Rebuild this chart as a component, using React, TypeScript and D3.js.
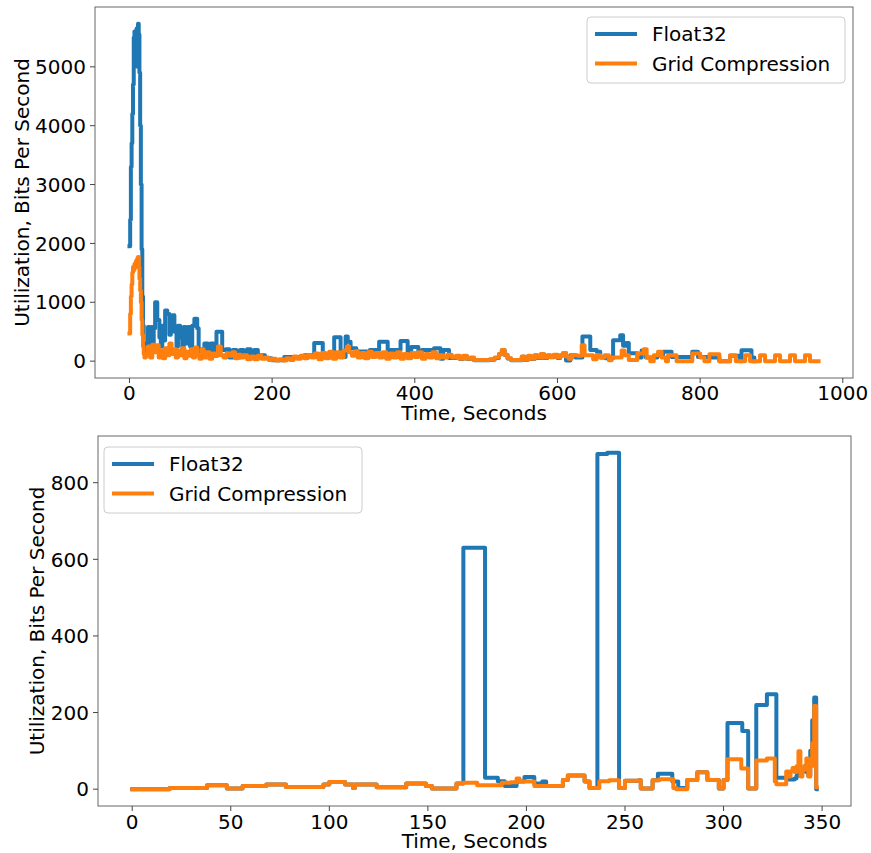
import React from "react";
import * as d3 from "d3";

type Pt = [number, number];

// ---------- Data (time in seconds, utilization in bits per second) ----------
const topFloat32: Pt[] = [
  [0, 1950], [1, 2400], [2, 3300], [3, 3700], [4, 4200], [5, 4700], [6, 5500], [7, 5600], [8, 5150], [9, 5600],
  [10, 5650], [11, 5000], [12, 5730], [13, 5550], [14, 4900], [15, 4000], [16, 3000], [17, 1900], [18, 1100], [19, 600],
  [20, 300], [22, 150], [24, 300], [26, 580], [28, 300], [30, 580], [32, 250], [34, 560], [36, 1000], [39, 700],
  [42, 400], [44, 250], [46, 600], [48, 350], [50, 860], [53, 800], [56, 450], [58, 600], [60, 780], [63, 500],
  [66, 250], [68, 600], [71, 400], [74, 250], [76, 580], [79, 300], [82, 580], [85, 250], [88, 600], [91, 720],
  [95, 560], [97, 200], [100, 130], [105, 300], [110, 150], [114, 300], [118, 90], [122, 500], [130, 190], [135, 200],
  [140, 60], [145, 190], [150, 60], [155, 190], [160, 100], [165, 200], [170, 100], [175, 190], [180, 100], [190, 50],
  [199, 15], [217, 70], [245, 100], [259, 310], [271, 100], [287, 405], [296, 70], [303, 420], [306, 330], [310, 220],
  [318, 165], [337, 190], [350, 330], [362, 190], [380, 340], [390, 150], [395, 240], [405, 150], [410, 190], [427, 220],
  [436, 40], [440, 190], [448, 55], [452, 55], [458, 85], [463, 35], [468, 85], [473, 35], [478, 55], [483, 15],
  [495, 15], [505, 25], [512, 55], [518, 115], [522, 185], [526, 105], [530, 45], [535, 15], [545, 15], [550, 75],
  [554, 25], [559, 85], [563, 35], [568, 95], [572, 55], [577, 115], [581, 55], [586, 95], [590, 65], [595, 105],
  [600, 55], [604, 95], [608, 135], [612, 10], [618, 100], [625, 60], [635, 420], [646, 190], [655, 160], [660, 60],
  [667, 50], [678, 355], [688, 440], [692, 260], [696, 310], [700, 135], [712, 60], [718, 180], [724, 60], [740, 100],
  [748, 160], [760, 70], [789, 160], [797, 70], [813, 60], [827, 0], [842, 90], [856, 0], [858, 186], [872, 60],
  [876, 0],
];

const topGrid: Pt[] = [
  [0, 470], [1, 800], [2, 1100], [3, 1300], [4, 1500], [5, 1600], [6, 1550], [7, 1650], [8, 1600], [9, 1700],
  [10, 1650], [11, 1750], [12, 1770], [13, 1600], [14, 1400], [15, 1200], [16, 1000], [17, 700], [18, 450], [19, 250],
  [20, 120], [21, 60], [23, 100], [26, 250], [29, 60], [32, 280], [35, 150], [38, 270], [41, 60], [44, 180],
  [47, 50], [50, 220], [53, 100], [56, 300], [59, 120], [62, 200], [65, 60], [68, 180], [71, 100], [74, 220],
  [77, 50], [80, 160], [83, 90], [86, 200], [89, 60], [92, 230], [95, 100], [98, 40], [101, 200], [104, 60],
  [108, 150], [112, 40], [116, 130], [120, 90], [124, 250], [128, 100], [132, 60], [136, 130], [140, 90], [144, 150],
  [148, 50], [152, 110], [156, 60], [160, 100], [165, 30], [170, 80], [175, 30], [180, 90], [185, 40], [190, 60],
  [195, 20], [200, 40], [205, 10], [210, 30], [215, 10], [220, 50], [225, 20], [230, 80], [235, 40], [240, 90],
  [245, 50], [250, 100], [255, 60], [260, 130], [265, 30], [270, 140], [275, 50], [280, 160], [285, 40], [290, 150],
  [295, 60], [300, 180], [305, 250], [308, 150], [312, 90], [316, 170], [320, 60], [325, 140], [330, 50], [335, 160],
  [340, 70], [345, 140], [350, 60], [355, 150], [360, 40], [365, 130], [370, 60], [375, 150], [380, 40], [385, 120],
  [390, 50], [395, 140], [400, 70], [405, 150], [410, 40], [415, 120], [420, 60], [425, 150], [430, 50], [435, 100],
  [440, 60], [446, 110], [452, 60], [458, 90], [463, 40], [468, 90], [473, 40], [478, 60], [483, 20], [495, 20],
  [505, 30], [512, 60], [518, 120], [522, 190], [526, 110], [530, 50], [535, 20], [545, 20], [550, 80], [554, 30],
  [559, 90], [563, 40], [568, 100], [572, 60], [577, 120], [581, 60], [586, 100], [590, 70], [595, 110], [600, 60],
  [604, 100], [608, 140], [612, 80], [616, 40], [620, 100], [628, 90], [634, 270], [638, 100], [645, 100], [650, 30],
  [655, 100], [660, 60], [666, 100], [672, 17], [676, 60], [690, 180], [694, 100], [700, 20], [706, 20], [712, 130],
  [721, 200], [725, 60], [730, 0], [735, 100], [741, 160], [746, 60], [752, 0], [755, 100], [767, 0], [789, 130],
  [800, 60], [806, 0], [813, 115], [827, 0], [842, 100], [850, 0], [863, 100], [870, 0], [884, 100], [891, 0],
  [905, 100], [912, 0], [926, 100], [933, 0], [947, 100], [954, 0], [966, 0],
];

const bottomFloat32: Pt[] = [
  [0, 0], [19, 3], [38, 10], [48, 2], [56, 8], [68, 12], [78, 6], [88, 6], [97, 12], [100, 19],
  [108, 12], [112, 3], [113, 12], [124, 5], [139, 15], [149, 8], [152, 2], [164.5, 15], [168, 630], [179, 30],
  [185.5, 21], [189, 8], [195, 20], [199, 32], [204, 15], [208, 20], [210, 8], [218.5, 24], [221, 36], [229.5, 20],
  [232, 3], [236, 875], [241, 878], [247, 3], [250, 22], [257, 23], [258, 2], [264, 23], [266.7, 40], [274, 20],
  [277, 3], [281.6, 24], [286.7, 44], [291.8, 24], [297.6, 2], [300, 24], [302, 173], [309.5, 152], [312.5, 2], [316.6, 220],
  [322, 248], [326.8, 30], [332, 25], [336, 28], [337, 35], [338, 42], [339, 40], [340, 50], [341, 60], [342, 45],
  [343, 35], [344, 100], [345, 180], [346, 239], [347, 0], [347.3, 0],
];

const bottomGrid: Pt[] = [
  [0, 0], [19, 3], [38, 10], [48, 2], [56, 8], [68, 12], [78, 6], [88, 6], [97, 12], [100, 19],
  [108, 12], [112, 3], [113, 12], [124, 5], [139, 15], [149, 8], [152, 2], [164.5, 15], [168, 17], [175, 10],
  [187.5, 17], [192, 18], [195, 28], [196.5, 20], [204, 8], [218.5, 24], [221, 36], [229.5, 20], [232, 3], [237, 21],
  [242, 23], [247, 3], [250, 22], [257, 23], [258, 2], [264, 23], [267.5, 26], [274.5, 3], [276, 0], [281.6, 24],
  [286.7, 44], [291.8, 24], [297.6, 2], [300, 24], [302, 78], [309, 54], [312.5, 2], [316.6, 75], [322, 80], [326, 20],
  [326.8, 13], [331.8, 46], [333, 33], [334, 47], [335, 55], [336, 45], [337, 60], [338, 99], [339, 33], [340, 50],
  [341, 60], [342, 80], [343, 33], [344, 60], [345, 120], [346, 217], [347, 5], [347.3, 5],
];

const topXTicks = [0, 200, 400, 600, 800, 1000];
const topYTicks = [0, 1000, 2000, 3000, 4000, 5000];
const bottomXTicks = [0, 50, 100, 150, 200, 250, 300, 350];
const bottomYTicks = [0, 200, 400, 600, 800];
const seriesNames = ["Float32", "Grid Compression"];
const seriesColors = ["#1f77b4", "#ff7f0e"];
const xLabel = "Time, Seconds";
const yLabel = "Utilization, Bits Per Second";

const FONT = "DejaVu Sans, sans-serif";
const FS = 20;

type PanelProps = {
  series: Pt[][];
  xTicks: number[];
  yTicks: number[];
  box: { left: number; right: number; top: number; bottom: number };
  yLabelX: number;
  xTickBaseline: number;
  xLabelBaseline: number;
  legend: { x: number; y: number };
};

function margined(ext: [number, number]): [number, number] {
  const span = ext[1] - ext[0];
  return [ext[0] - span * 0.05, ext[1] + span * 0.05];
}

function Panel({ series, xTicks, yTicks, box, yLabelX, xTickBaseline, xLabelBaseline, legend }: PanelProps) {
  const all = series.flat();
  const xDom = margined(d3.extent(all, (d) => d[0]) as [number, number]);
  const yDom = margined(d3.extent(all, (d) => d[1]) as [number, number]);
  const x = d3.scaleLinear().domain(xDom).range([box.left, box.right]);
  const y = d3.scaleLinear().domain(yDom).range([box.bottom, box.top]);
  const line = d3
    .line<Pt>()
    .x((d) => x(d[0]))
    .y((d) => y(d[1]))
    .curve(d3.curveStepAfter);
  const clipId = `clip-${Math.round(box.top)}`;
  const lw = 258;
  const lh = 66;
  return (
    <g>
      <defs>
        <clipPath id={clipId}>
          <rect x={box.left} y={box.top} width={box.right - box.left} height={box.bottom - box.top} />
        </clipPath>
      </defs>
      <g clipPath={`url(#${clipId})`}>
        {series.map((s, i) => (
          <path
            key={i}
            d={line(s) || ""}
            fill="none"
            stroke={seriesColors[i]}
            strokeWidth={4}
            strokeLinejoin="round"
            strokeLinecap="square"
          />
        ))}
      </g>
      <rect
        x={box.left}
        y={box.top}
        width={box.right - box.left}
        height={box.bottom - box.top}
        fill="none"
        stroke="#666"
        strokeWidth={1}
      />
      {xTicks.map((t) => (
        <g key={`x${t}`}>
          <line x1={x(t)} x2={x(t)} y1={box.bottom} y2={box.bottom + 5} stroke="#444" strokeWidth={1} />
          <text x={x(t)} y={xTickBaseline} textAnchor="middle" fontFamily={FONT} fontSize={FS} fill="#000">
            {t}
          </text>
        </g>
      ))}
      {yTicks.map((t) => (
        <g key={`y${t}`}>
          <line x1={box.left - 5} x2={box.left} y1={y(t)} y2={y(t)} stroke="#444" strokeWidth={1} />
          <text
            x={box.left - 9}
            y={y(t)}
            dy="0.36em"
            textAnchor="end"
            fontFamily={FONT}
            fontSize={FS}
            fill="#000"
          >
            {t}
          </text>
        </g>
      ))}
      <text
        x={(box.left + box.right) / 2}
        y={xLabelBaseline}
        textAnchor="middle"
        fontFamily={FONT}
        fontSize={FS}
        fill="#000"
      >
        {xLabel}
      </text>
      <text
        transform={`translate(${yLabelX},${(box.top + box.bottom) / 2}) rotate(-90)`}
        textAnchor="middle"
        dy="0.36em"
        fontFamily={FONT}
        fontSize={FS}
        fill="#000"
      >
        {yLabel}
      </text>
      <g>
        <rect
          x={legend.x}
          y={legend.y}
          width={lw}
          height={lh}
          rx={4}
          fill="#fff"
          fillOpacity={0.8}
          stroke="#ccc"
          strokeWidth={1}
        />
        {seriesNames.map((n, i) => {
          const cy = legend.y + 17 + i * 29.5;
          return (
            <g key={n}>
              <line
                x1={legend.x + 10}
                x2={legend.x + 48}
                y1={cy}
                y2={cy}
                stroke={seriesColors[i]}
                strokeWidth={4}
                strokeLinecap="square"
              />
              <text x={legend.x + 65} y={cy} dy="0.36em" fontFamily={FONT} fontSize={FS} fill="#000">
                {n}
              </text>
            </g>
          );
        })}
      </g>
    </g>
  );
}

export default function App() {
  return (
    <svg
      width={871}
      height={853}
      style={{ position: "absolute", left: 0, top: 0, background: "#fff" }}
    >
      <rect x={0} y={0} width={871} height={853} fill="#fff" />
      <Panel
        series={[topFloat32, topGrid]}
        xTicks={topXTicks}
        yTicks={topYTicks}
        box={{ left: 95, right: 853, top: 7, bottom: 378 }}
        yLabelX={22}
        xTickBaseline={400}
        xLabelBaseline={420}
        legend={{ x: 587, y: 17 }}
      />
      <Panel
        series={[bottomFloat32, bottomGrid]}
        xTicks={bottomXTicks}
        yTicks={bottomYTicks}
        box={{ left: 98, right: 851, top: 436, bottom: 806 }}
        yLabelX={37}
        xTickBaseline={829}
        xLabelBaseline={848}
        legend={{ x: 104, y: 447 }}
      />
    </svg>
  );
}
